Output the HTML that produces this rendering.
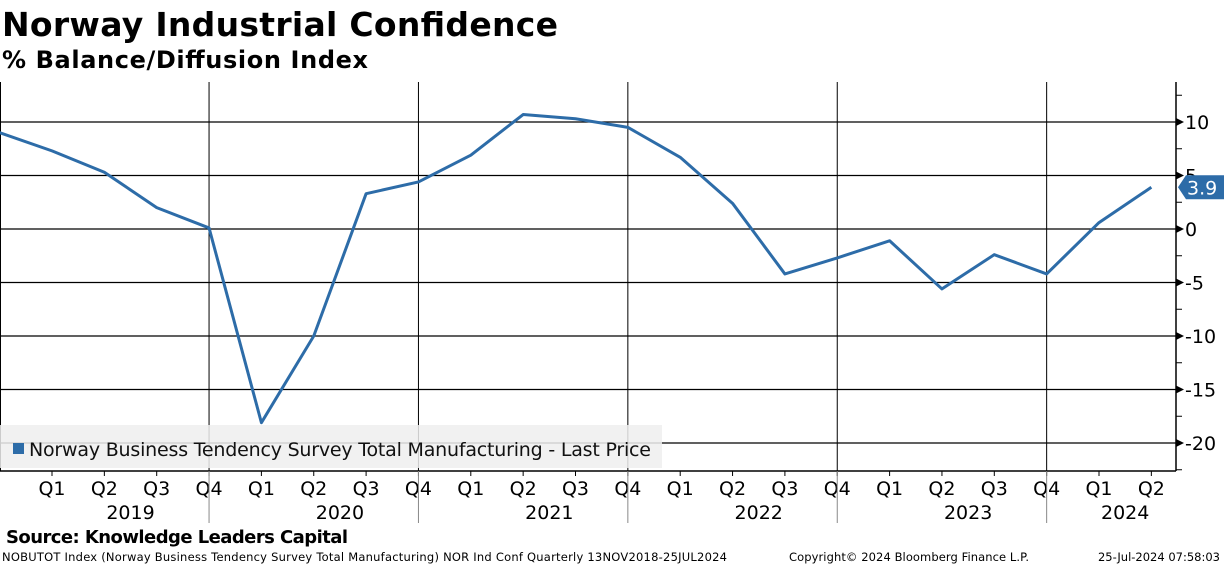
<!DOCTYPE html>
<html><head><meta charset="utf-8"><style>
body{margin:0;width:1224px;height:566px;background:#fff;overflow:hidden;font-family:"Liberation Sans","DejaVu Sans",sans-serif}
svg text{font-family:"DejaVu Sans","Liberation Sans",sans-serif}
</style></head><body>
<svg id="c" width="1224" height="566">
<text x="2" y="36" font-size="33" font-weight="bold" textLength="556">Norway Industrial Confidence</text>
<text x="2" y="68" font-size="24" font-weight="bold" textLength="366">% Balance/Diffusion Index</text>
<g id="grid"></g>
<g id="xaxis"></g>
<g id="yaxis"></g>
<polyline id="line" fill="none" stroke="#2d6ca8" stroke-width="3" stroke-linejoin="round"/>
<g>
<rect x="0" y="425" width="662" height="43" fill="#eeeeee" fill-opacity="0.85"/>
<rect x="13" y="443" width="11" height="11" fill="#2d6ca8"/>
<text x="29" y="456" font-size="19" fill="#111" textLength="622">Norway Business Tendency Survey Total Manufacturing - Last Price</text>
</g>
<g id="lastlabel"></g>
<text x="6" y="543" font-size="18" font-weight="bold" textLength="342">Source: Knowledge Leaders Capital</text>
<text x="2" y="561" font-size="11.5" textLength="725">NOBUTOT Index (Norway Business Tendency Survey  Total Manufacturing) NOR Ind Conf  Quarterly 13NOV2018-25JUL2024</text>
<text x="789" y="561" font-size="11.5" textLength="240">Copyright© 2024 Bloomberg Finance L.P.</text>
<text x="1220" y="561" font-size="11.5" text-anchor="end">25-Jul-2024 07:58:03</text>
</svg>
<script>
const quarters=["Q4","Q1","Q2","Q3","Q4","Q1","Q2","Q3","Q4","Q1","Q2","Q3","Q4","Q1","Q2","Q3","Q4","Q1","Q2","Q3","Q4","Q1","Q2"];
const values=[9.0,7.3,5.3,2.0,0.1,-18.1,-10.0,3.3,4.4,6.9,10.7,10.3,9.5,6.7,2.4,-4.2,-2.7,-1.1,-5.6,-2.4,-4.2,0.6,3.9];
const years=["2019","2020","2021","2022","2023","2024"];
const yTicks=[10,5,0,-5,-10,-15,-20];
const NS="http://www.w3.org/2000/svg";
const x=i=>52.35*(i-1)+52;
const y=v=>229-v*10.7;
const L=0,R=1176,T=82,B=471;
function mk(t,a,p){const e=document.createElementNS(NS,t);for(const k in a)e.setAttribute(k,a[k]);p.appendChild(e);return e;}
const grid=document.getElementById('grid'),xa=document.getElementById('xaxis'),ya=document.getElementById('yaxis');
yTicks.forEach(v=>{
 const g=mk('line',{x1:L,x2:R,y1:y(v),y2:y(v),stroke:'#000','stroke-width':1.2},grid);
 
 
 mk('path',{d:`M${R} ${y(v)-4}L${R+8} ${y(v)}L${R} ${y(v)+4}Z`,fill:'#000'},ya);
 const t=mk('text',{x:R+9,y:y(v)+7,'font-size':19},ya);t.textContent=v;
 
 
});
for(let v=12.5;v>=-22.5;v-=5)mk('line',{x1:R,x2:R+6,y1:y(v),y2:y(v),stroke:'#000'},ya);
mk('line',{x1:R,x2:R,y1:T,y2:B,stroke:'#000','stroke-width':1.5},ya);
mk('line',{x1:L,x2:R,y1:B,y2:B,stroke:'#000','stroke-width':1.5},xa);
mk('line',{x1:L+0.5,x2:L+0.5,y1:T,y2:B,stroke:'#000'},xa);
quarters.forEach((q,i)=>{
 if(i===0)return;
 const xi=x(i);
 mk('line',{x1:xi,x2:xi,y1:B,y2:B+5,stroke:'#000'},xa);
 const t=mk('text',{x:xi,y:495,'font-size':19,'text-anchor':'middle'},xa);t.textContent=q;
 
 
 if(q==="Q4"){
  const g=mk('line',{x1:xi,x2:xi,y1:T,y2:B,stroke:'#000'},grid);
  
  
  mk('line',{x1:xi,x2:xi,y1:B,y2:523,stroke:'#888'},xa);
 }
});
years.forEach((yr,k)=>{
 const i1=1+4*k, i2=Math.min(i1+3,quarters.length-1);
 const t=mk('text',{x:(x(i1)+x(i2))/2,y:519,'font-size':19,'text-anchor':'middle'},xa);t.textContent=yr;
 
 
});
document.getElementById('line').setAttribute('points',values.map((v,i)=>x(i)+','+y(v)).join(' '));
const lv=values[values.length-1],ly=y(lv),ll=document.getElementById('lastlabel');
mk('path',{d:`M${R+2} ${ly}L${R+10} ${ly-12}L1224 ${ly-12}L1224 ${ly+12}L${R+10} ${ly+12}Z`,fill:'#2d6ca8'},ll);
const lt=mk('text',{x:1187,y:ly+7,'font-size':19,fill:'#fff'},ll);lt.textContent=lv.toFixed(1);
</script>
</body></html>
